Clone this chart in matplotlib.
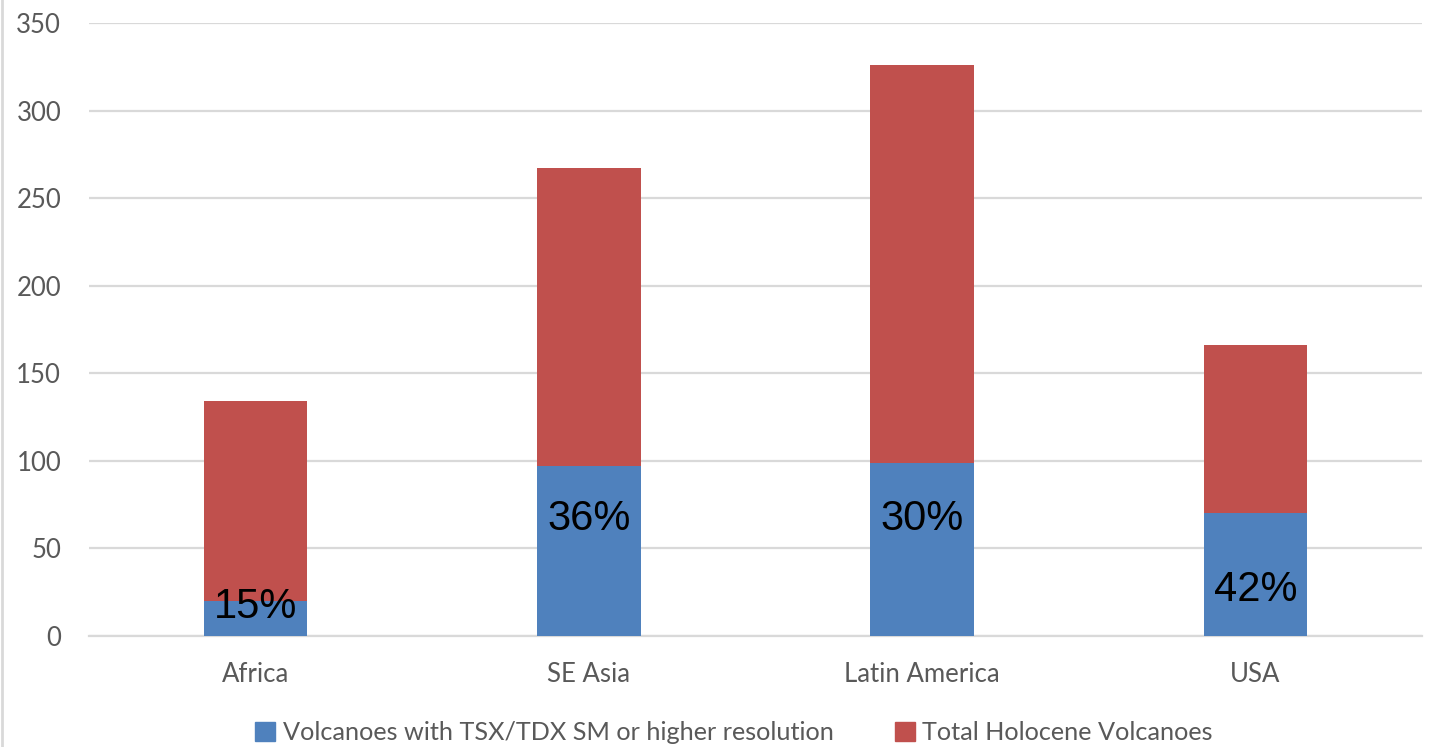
import matplotlib
matplotlib.use("Agg")
import matplotlib.pyplot as plt
from matplotlib.patches import Patch
from matplotlib.lines import Line2D

regions = ["Africa", "SE Asia", "Latin America", "USA"]
total_holocene = [134, 267, 326, 166]
tsx_covered = [20, 97, 99, 70]
pct_labels = ["15%", "36%", "30%", "42%"]
pct_label_y = [16.5, 67, 67, 26]

blue = "#4F81BD"
red = "#C0504D"
grey_text = "#595959"
grid_col = "#D9D9D9"

fig = plt.figure(figsize=(14.42, 7.47), dpi=100)
ax = fig.add_axes([89 / 1442, 1 - 636 / 747, (1422 - 89) / 1442, (636 - 23) / 747])

x = range(len(regions))
w = 0.31
ax.bar(x, total_holocene, width=w, color=red, zorder=2)
ax.bar(x, tsx_covered, width=w, color=blue, zorder=3)

for i, (lab, yy) in enumerate(zip(pct_labels, pct_label_y)):
    ax.text(i, yy, lab, ha="center", va="center", fontsize=30,
            family="Liberation Sans", color="black", zorder=4)

ax.set_xlim(-0.5, len(regions) - 0.5)
ax.set_ylim(0, 350)
ax.set_yticks(range(0, 351, 50))
ax.set_xticks(list(x))
ax.set_xticklabels(regions)
ax.yaxis.grid(True, color=grid_col, linewidth=1.6, zorder=0)
ax.set_axisbelow(True)
for s in ["top", "right", "left"]:
    ax.spines[s].set_visible(False)
ax.spines["bottom"].set_color(grid_col)
ax.spines["bottom"].set_linewidth(1.6)
ax.tick_params(axis="both", length=0, labelsize=18.5, labelcolor=grey_text)
ax.tick_params(axis="y", pad=20)
ax.tick_params(axis="x", pad=19)
for t in ax.get_xticklabels() + ax.get_yticklabels():
    t.set_family("Lato")

handles = [Patch(color=blue, label="Volcanoes with TSX/TDX SM or higher resolution"),
           Patch(color=red, label="Total Holocene Volcanoes")]
fig.legend(handles=handles, loc="center", bbox_to_anchor=(734 / 1442, 1 - 733 / 747),
           ncol=2, frameon=False, handlelength=0.8, handleheight=0.8,
           handletextpad=0.3, columnspacing=2.4,
           prop={"family": "Lato", "size": 18.2}, labelcolor=grey_text)

fig.add_artist(Line2D([2 / 1442, 2 / 1442], [0, 1], color=grid_col, linewidth=2,
                      transform=fig.transFigure))

fig.savefig("out.png", dpi=100)
